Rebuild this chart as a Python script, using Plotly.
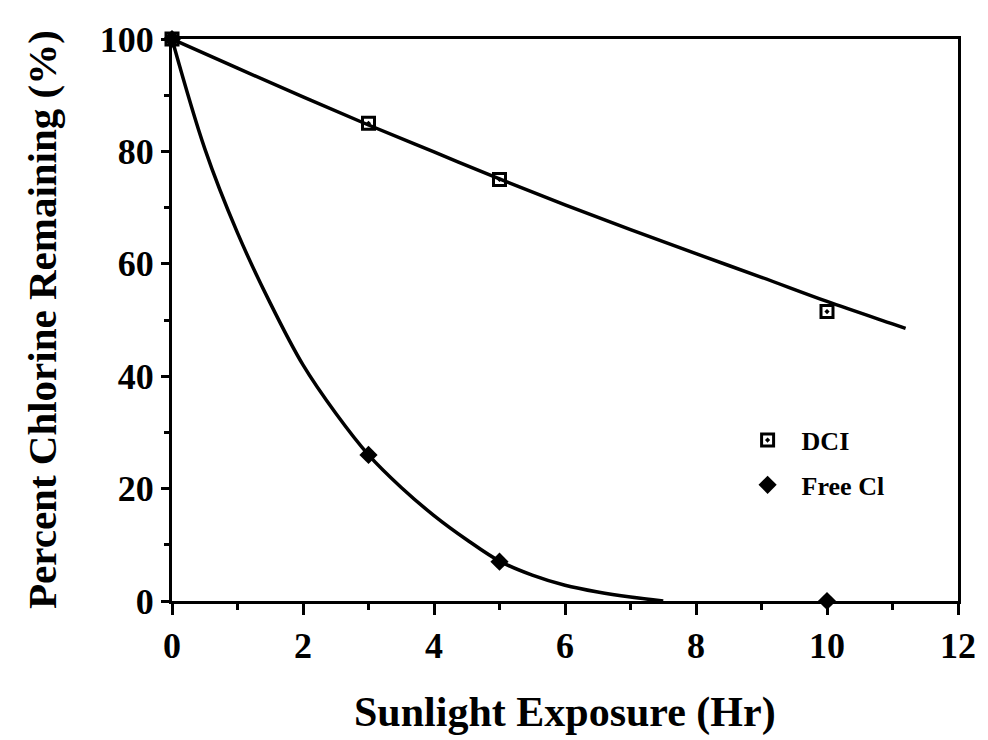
import plotly.graph_objects as go

# measured data points
hours = [0, 3, 5, 10]
dci_pct = [100, 85, 75, 51.5]
free_pct = [100, 26, 7, 0]

# fitted curves
dci_fit_x = [0, 1, 2, 3, 4, 5, 6, 7, 8, 9, 10, 11, 11.2]
dci_fit_y = [100, 94.8, 89.7, 84.7, 79.9, 75.1, 70.5, 66.1, 61.8, 57.6, 53.3, 49.3, 48.5]
free_fit_x = [0, 0.5, 1, 1.5, 2, 2.5, 3, 3.5, 4, 4.5, 5, 5.5, 6, 6.5, 7, 7.5]
free_fit_y = [100, 80.5, 65.5, 53.0, 42.0, 33.4, 26, 20.2, 15.2, 10.9, 7.1, 4.6, 2.8, 1.6, 0.7, 0]

x_ticks = [0, 2, 4, 6, 8, 10, 12]
y_ticks = [0, 20, 40, 60, 80, 100]

FONT = "Liberation Serif"
fig = go.Figure()

fig.add_trace(go.Scatter(x=dci_fit_x, y=dci_fit_y, mode="lines", line=dict(color="black", width=3.5, shape="spline"),
                         showlegend=False, hoverinfo="skip", cliponaxis=False))
fig.add_trace(go.Scatter(x=free_fit_x, y=free_fit_y, mode="lines", line=dict(color="black", width=3.5, shape="spline"),
                         showlegend=False, hoverinfo="skip", cliponaxis=False))
fig.add_trace(go.Scatter(x=hours, y=dci_pct, mode="markers", name="DCI", legendgroup="a",
                         marker=dict(symbol="square-open-dot", size=12, color="black", line=dict(width=3, color="black")),
                         cliponaxis=False))
fig.add_trace(go.Scatter(x=hours, y=free_pct, mode="markers", name="Free Cl", legendgroup="b",
                         marker=dict(symbol="diamond", size=14, color="black"),
                         cliponaxis=False))

fig.update_layout(
    width=980, height=732,
    margin=dict(l=164, r=24, t=27, b=139),
    paper_bgcolor="white", plot_bgcolor="white",
    font=dict(family=FONT, color="black"),
    legend=dict(x=0.7145, y=0.328, xanchor="left", yanchor="top", bgcolor="rgba(0,0,0,0)",
                font=dict(family=FONT, size=26, weight="bold"), tracegroupgap=8, itemwidth=58),
    xaxis=dict(range=[0, 12], tickvals=x_ticks, ticks="outside", ticklen=11, tickwidth=3, tickcolor="black",
               showline=True, linewidth=3, linecolor="black", mirror=True, showgrid=False, zeroline=False,
               tickfont=dict(family=FONT, size=36, weight="bold"),
               minor=dict(dtick=1, ticks="outside", ticklen=6, tickwidth=3, tickcolor="black")),
    yaxis=dict(range=[0, 100], tickvals=y_ticks, ticks="outside", ticklen=8, tickwidth=3, tickcolor="black",
               showline=True, linewidth=3, linecolor="black", mirror=True, showgrid=False, zeroline=False,
               tickfont=dict(family=FONT, size=36, weight="bold"),
               minor=dict(dtick=10, ticks="outside", ticklen=5, tickwidth=3, tickcolor="black")),
    annotations=[
        dict(text="Sunlight Exposure (Hr)", xref="paper", yref="paper", x=0.5, y=0, yshift=-111,
             xanchor="center", yanchor="middle", showarrow=False,
             font=dict(family=FONT, size=42, weight="bold")),
        dict(text="Percent Chlorine Remaining (%)", xref="paper", yref="paper", x=0, y=0.5, xshift=-130,
             xanchor="center", yanchor="middle", textangle=-90, showarrow=False,
             font=dict(family=FONT, size=41, weight="bold")),
    ],
)

fig.write_html("out.html")
